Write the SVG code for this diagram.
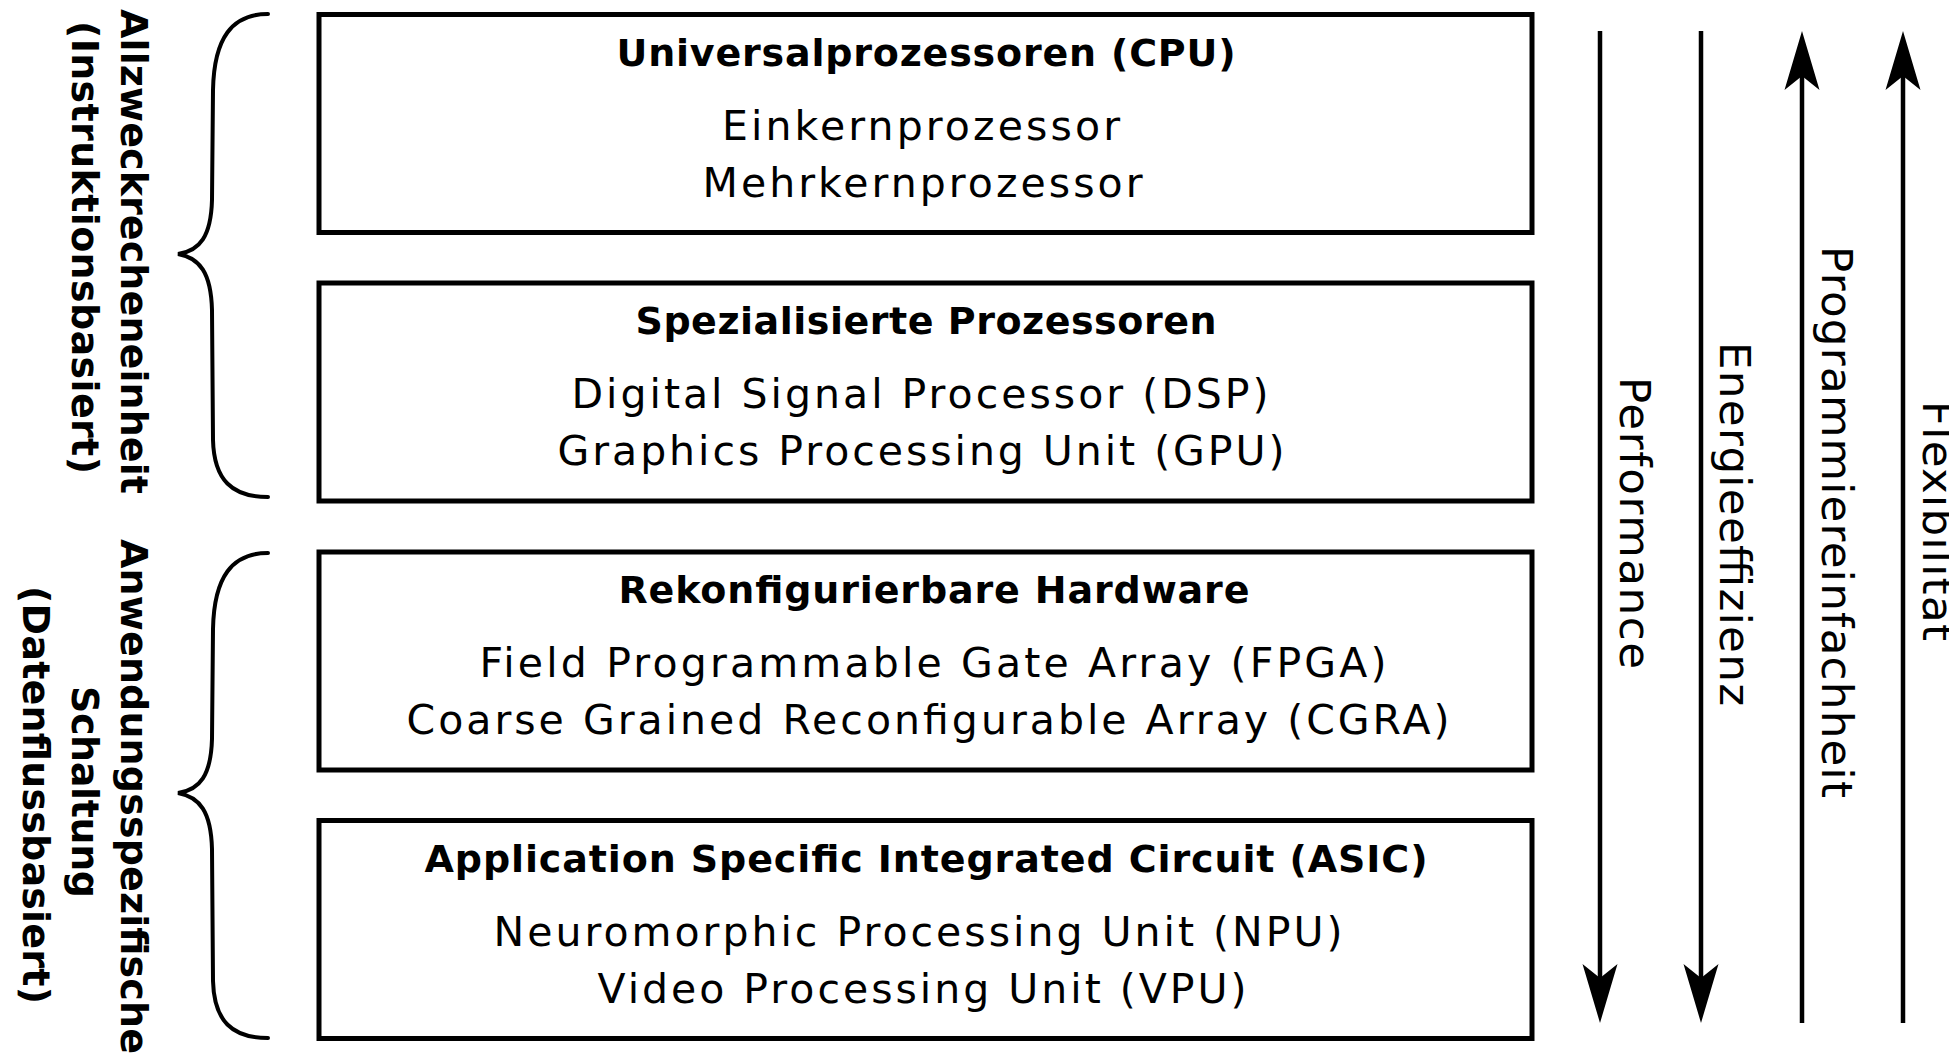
<svg xmlns="http://www.w3.org/2000/svg" width="1949" height="1058" viewBox="0 0 1949 1058">
  <style>
    .box { fill: #fff; stroke: #000; stroke-width: 5; }
    .title { font-family: "DejaVu Sans", Verdana, sans-serif; font-weight: bold; font-size: 38px; fill: #000; text-anchor: middle; }
    .item { font-family: "DejaVu Sans", Verdana, sans-serif; font-size: 41px; fill: #000; text-anchor: middle; }
    .group { font-family: "DejaVu Sans", Verdana, sans-serif; font-weight: bold; font-size: 38px; fill: #000; }
    .axis { font-family: "DejaVu Sans", Verdana, sans-serif; font-size: 43.5px; fill: #000; }
    .brace { fill: none; stroke: #000; stroke-width: 4; stroke-linecap: round; }
    .arrow { fill: none; stroke: #000; stroke-width: 4.5; }
  </style>
  <defs>
    <marker id="head" viewBox="0 -18 60 36" markerWidth="60" markerHeight="36" refX="14" refY="0" orient="auto" markerUnits="userSpaceOnUse">
      <path d="M0,-17.5 L59,0 L0,17.5 L14,0 Z" fill="#000"/>
    </marker>
  </defs>
  <rect width="1949" height="1058" fill="#fff"/>

  <!-- processor classes -->
  <g id="cpu">
    <rect class="box" x="319" y="14.5" width="1213" height="218"/>
    <text class="title" x="926" y="65.5" textLength="619" lengthAdjust="spacing">Universalprozessoren (CPU)</text>
    <text class="item" x="921" y="139.5" textLength="398" lengthAdjust="spacing">Einkernprozessor</text>
    <text class="item" x="922.5" y="196.5" textLength="440" lengthAdjust="spacing">Mehrkernprozessor</text>
  </g>
  <g id="special">
    <rect class="box" x="319" y="283" width="1213" height="218"/>
    <text class="title" x="926" y="334" textLength="581" lengthAdjust="spacing">Spezialisierte Prozessoren</text>
    <text class="item" x="920" y="408" textLength="697" lengthAdjust="spacing">Digital Signal Processor (DSP)</text>
    <text class="item" x="921" y="465" textLength="727" lengthAdjust="spacing">Graphics Processing Unit (GPU)</text>
  </g>
  <g id="reconfig">
    <rect class="box" x="319" y="552" width="1213" height="218"/>
    <text class="title" x="934" y="603" textLength="631" lengthAdjust="spacing">Rekonfigurierbare Hardware</text>
    <text class="item" x="933" y="677" textLength="907" lengthAdjust="spacing">Field Programmable Gate Array (FPGA)</text>
    <text class="item" x="928" y="734" textLength="1043" lengthAdjust="spacing">Coarse Grained Reconfigurable Array (CGRA)</text>
  </g>
  <g id="asic">
    <rect class="box" x="319" y="820.5" width="1213" height="218"/>
    <text class="title" x="926" y="871.5" textLength="1003" lengthAdjust="spacing">Application Specific Integrated Circuit (ASIC)</text>
    <text class="item" x="918" y="945.5" textLength="849" lengthAdjust="spacing">Neuromorphic Processing Unit (NPU)</text>
    <text class="item" x="922" y="1002.5" textLength="649" lengthAdjust="spacing">Video Processing Unit (VPU)</text>
  </g>

  <!-- category braces and labels -->
  <g id="general-purpose">
    <path class="brace" d="M268,14 C232,14 214,38 213,90 L212,200 C211,236 200,251 178,254 C200,258 211,273 212,310 L213,440 C214,480 232,497 268,497"/>
    <text class="group" transform="rotate(90)" x="9" y="-120.5" textLength="485" lengthAdjust="spacing">Allzweckrecheneinheit</text>
    <text class="group" transform="rotate(90)" x="21" y="-71.5" textLength="453" lengthAdjust="spacing">(Instruktionsbasiert)</text>
  </g>
  <g id="application-specific">
    <path class="brace" d="M268,553 C232,553 214,577 213,629 L212,739 C211,775 200,790 178,793 C200,797 211,812 212,849 L213,981 C214,1021 232,1038 268,1038"/>
    <text class="group" transform="rotate(90)" x="539" y="-120.5" textLength="515" lengthAdjust="spacing">Anwendungsspezifische</text>
    <text class="group" transform="rotate(90)" x="686" y="-71.5" textLength="212" lengthAdjust="spacing">Schaltung</text>
    <text class="group" transform="rotate(90)" x="586" y="-22.5" textLength="418" lengthAdjust="spacing">(Datenflussbasiert)</text>
  </g>

  <!-- trend arrows -->
  <g id="connectors">
    <line class="arrow" x1="1600" y1="31" x2="1600" y2="978" marker-end="url(#head)"/>
    <line class="arrow" x1="1701" y1="31" x2="1701" y2="978" marker-end="url(#head)"/>
    <line class="arrow" x1="1802" y1="1023" x2="1802" y2="76" marker-end="url(#head)"/>
    <line class="arrow" x1="1903" y1="1023" x2="1903" y2="76" marker-end="url(#head)"/>
  </g>
  <g id="axis-labels">
    <text class="axis" transform="rotate(90)" x="377" y="-1620" textLength="292" lengthAdjust="spacing">Performance</text>
    <text class="axis" transform="rotate(90)" x="342" y="-1720" textLength="364" lengthAdjust="spacing">Energieeffizienz</text>
    <text class="axis" transform="rotate(90)" x="246" y="-1822" textLength="552" lengthAdjust="spacing">Programmiereinfachheit</text>
    <text class="axis" transform="rotate(90)" x="401" y="-1923" textLength="240" lengthAdjust="spacing">Flexibilität</text>
  </g>
</svg>
